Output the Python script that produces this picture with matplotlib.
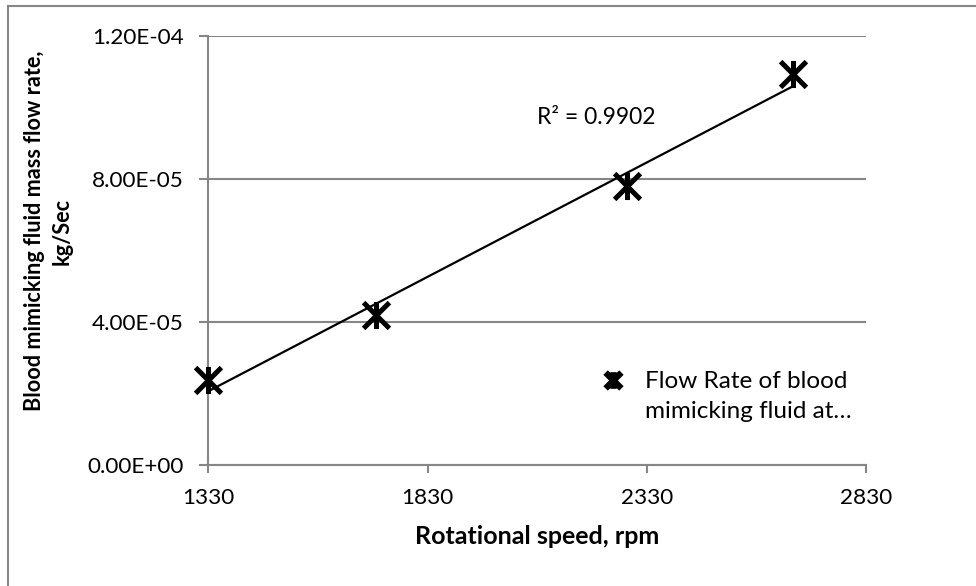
import numpy as np
import matplotlib
matplotlib.use("Agg")
import matplotlib.pyplot as plt
from matplotlib.path import Path
from matplotlib.lines import Line2D

plt.rcParams['font.family'] = ['Lato', 'DejaVu Sans']

# Data
rpm = [1330, 1712, 2284, 2664]
flow = [2.38e-5, 4.20e-5, 7.81e-5, 1.093e-4]
x_ticks = [1330, 1830, 2330, 2830]
y_ticks = [0.0, 4e-5, 8e-5, 1.2e-4]
y_tick_labels = ["0.00E+00", "4.00E-05", "8.00E-05", "1.20E-04"]
r2_label = "R² = 0.9902"
series_label_lines = ["Flow Rate of blood", "mimicking fluid at…"]
x_label = "Rotational speed, rpm"
y_label = "Blood mimicking fluid mass flow rate,\nkg/Sec"

star = Path([(-1, -1), (1, 1), (-1, 1), (1, -1), (0, -1.05), (0, 1.05)],
            [Path.MOVETO, Path.LINETO, Path.MOVETO, Path.LINETO, Path.MOVETO, Path.LINETO])

fig = plt.figure(figsize=(9.76, 5.86), dpi=100)
ax = fig.add_axes([208.3/976, 1-465/586, (866-208.3)/976, (465-35.7)/586])

grey = '#868686'
ax.set_xlim(x_ticks[0], x_ticks[-1])
ax.set_ylim(y_ticks[0], y_ticks[-1])
ax.set_xticks(x_ticks)
ax.set_xticklabels([str(t) for t in x_ticks])
ax.set_yticks(y_ticks)
ax.set_yticklabels(y_tick_labels)
ax.yaxis.grid(True, color=grey, lw=1.5)
ax.set_axisbelow(True)
for s in ['top', 'right']:
    ax.spines[s].set_visible(False)
for s in ['left', 'bottom']:
    ax.spines[s].set_color(grey)
    ax.spines[s].set_linewidth(1.5)
ax.tick_params(axis='both', direction='out', width=1.5, color=grey,
               labelsize=16.2, labelcolor='black')
ax.tick_params(axis='x', length=6, pad=10.5)
ax.tick_params(axis='y', length=6.5, pad=11)

# trendline
coef = np.polyfit(rpm, flow, 1)
xs = np.array([min(rpm), max(rpm)])
ax.plot(xs, np.polyval(coef, xs), color='black', lw=1.6, zorder=3)

ax.plot(rpm, flow, linestyle='none', marker=star, markersize=19.5,
        markeredgewidth=3.6, color='black', zorder=4, clip_on=False)

ax.text(2079, 9.70e-5, r2_label, fontsize=16.5, ha='left', va='center')

ax.set_xlabel(x_label, fontsize=18, fontweight='bold', labelpad=12)
ax.set_ylabel(y_label, fontsize=15.6, fontweight='bold', linespacing=1.4)
ax.yaxis.set_label_coords(-0.206, 0.545)

handle = Line2D([], [], linestyle='none', marker=star, markersize=12,
                markeredgewidth=4.5, color='black')
blank = Line2D([], [], linestyle='none')
leg = ax.legend([handle, blank], series_label_lines, loc='upper left',
                bbox_to_anchor=(601/976, 1-371/586), bbox_transform=fig.transFigure,
                frameon=False, fontsize=17.5, handlelength=1.0, handletextpad=0.8,
                labelspacing=0.36, borderpad=0, borderaxespad=0)

# chart-area border (top and left visible)
fig.add_artist(Line2D([8/976, 1], [1-5.5/586, 1-5.5/586], transform=fig.transFigure,
                      color=grey, lw=1.5))
fig.add_artist(Line2D([8/976, 8/976], [0, 1-5.5/586], transform=fig.transFigure,
                      color=grey, lw=1.5))

fig.savefig("out.png", dpi=100)
